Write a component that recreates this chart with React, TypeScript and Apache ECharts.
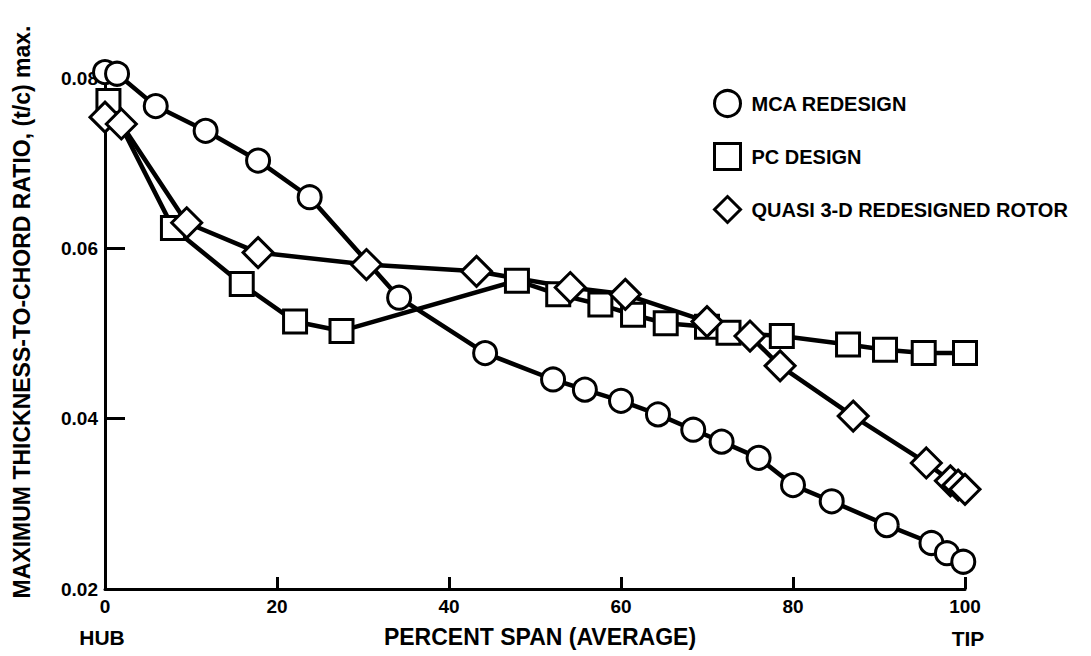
import React, { useEffect, useRef } from "react";
import * as echarts from "echarts";

// Percent span (x) and max thickness-to-chord ratio (y) for each design
const spanMCA = [0, 1.4, 5.9, 11.7, 17.8, 23.8, 34.2, 44.2, 52.1, 55.8, 60.0, 64.3, 68.4, 71.7, 76.0, 80.0, 84.5, 90.9, 96.1, 97.9, 99.8];
const tcMCA = [0.0807, 0.0805, 0.0767, 0.0738, 0.0703, 0.066, 0.0542, 0.0477, 0.0446, 0.0434, 0.0421, 0.0405, 0.0387, 0.0373, 0.0354, 0.0322, 0.0303, 0.0275, 0.0254, 0.0242, 0.0232];

const spanPC = [0.4, 7.9, 15.9, 22.1, 27.5, 47.9, 52.7, 57.6, 61.4, 65.2, 70.0, 72.5, 78.7, 86.4, 90.7, 95.2, 100];
const tcPC = [0.0773, 0.0624, 0.0558, 0.0514, 0.0503, 0.0562, 0.0546, 0.0534, 0.0522, 0.0512, 0.0508, 0.0501, 0.0497, 0.0487, 0.0481, 0.0477, 0.0477];

const spanQ3D = [0, 1.9, 9.5, 17.8, 30.4, 43.2, 54.1, 60.5, 70.0, 75.0, 78.5, 87.0, 95.5, 98.3, 99.2, 100];
const tcQ3D = [0.0754, 0.0746, 0.063, 0.0595, 0.0581, 0.0573, 0.0554, 0.0546, 0.0514, 0.0497, 0.0462, 0.0403, 0.0348, 0.0327, 0.0322, 0.0317];

const seriesNames = ["MCA REDESIGN", "PC DESIGN", "QUASI 3-D REDESIGNED ROTOR"];
const xTickValues = [0, 20, 40, 60, 80, 100];
const yTickValues = [0.02, 0.04, 0.06, 0.08];

const FONT = '"Liberation Sans", Arial, Helvetica, sans-serif';

function pairs(xs: number[], ys: number[]) {
  return xs.map((x, i) => [x, ys[i]]);
}

export default function App() {
  const ref = useRef<HTMLDivElement>(null);

  useEffect(() => {
    if (!ref.current) return;
    const chart = echarts.init(ref.current, null, { renderer: "svg" });

    const markerStyle = { color: "#ffffff", borderColor: "#000000", borderWidth: 3 };
    const lineStyle = { color: "#000000", width: 4.5 };

    const mkSeries = (name: string, data: number[][], symbol: string, size: number) => ({
      name,
      type: "line",
      data,
      symbol,
      symbolSize: size,
      showAllSymbol: true,
      clip: false,
      lineStyle,
      itemStyle: markerStyle,
      emphasis: { disabled: true },
    });

    chart.setOption({
      animation: false,
      backgroundColor: "#ffffff",
      textStyle: { fontFamily: FONT, fontWeight: "bold", color: "#000" },
      grid: { left: 105, right: 126, top: 78, bottom: 67, containLabel: false },
      xAxis: {
        type: "value",
        min: xTickValues[0],
        max: xTickValues[xTickValues.length - 1],
        interval: 20,
        axisLine: { show: true, lineStyle: { color: "#000", width: 3 } },
        axisTick: { show: true, inside: true, length: 12, lineStyle: { color: "#000", width: 3 } },
        axisLabel: { fontSize: 19, fontWeight: "bold", fontFamily: FONT, color: "#000", margin: 8 },
        splitLine: { show: false },
      },
      yAxis: {
        type: "value",
        min: yTickValues[0],
        max: yTickValues[yTickValues.length - 1],
        interval: 0.02,
        axisLine: { show: true, lineStyle: { color: "#000", width: 3 } },
        axisTick: { show: true, inside: true, length: 20, lineStyle: { color: "#000", width: 3 } },
        axisLabel: {
          fontSize: 19,
          fontWeight: "bold",
          fontFamily: FONT,
          color: "#000",
          margin: 7,
          formatter: (v: number) => v.toFixed(2),
        },
        splitLine: { show: false },
      },
      legend: {
        orient: "vertical",
        left: 708,
        top: 84,
        itemWidth: 26,
        itemHeight: 26,
        itemGap: 24,
        selectedMode: false,
        itemStyle: { color: "#ffffff", borderColor: "#000000", borderWidth: 3 },
        textStyle: { fontSize: 20, fontWeight: "bold", fontFamily: FONT, color: "#000", padding: [0, 0, 0, 6] },
        data: [
          { name: seriesNames[0], icon: "circle" },
          { name: seriesNames[1], icon: "rect" },
          { name: seriesNames[2], icon: "diamond" },
        ],
      },
      series: [
        mkSeries(seriesNames[0], pairs(spanMCA, tcMCA), "circle", 23),
        mkSeries(seriesNames[1], pairs(spanPC, tcPC), "rect", 23),
        mkSeries(seriesNames[2], pairs(spanQ3D, tcQ3D), "diamond", 30),
      ],
      graphic: [
        {
          type: "text",
          x: 22,
          y: 312,
          rotation: Math.PI / 2,
          style: {
            text: "MAXIMUM THICKNESS-TO-CHORD RATIO, (t/c) max.",
            fontSize: 23,
            fontWeight: "bold",
            fontFamily: FONT,
            fill: "#000",
            align: "center",
            verticalAlign: "middle",
          },
        },
        {
          type: "text",
          x: 102,
          y: 637,
          style: { text: "HUB", fontSize: 21, fontWeight: "bold", fontFamily: FONT, fill: "#000", align: "center", verticalAlign: "middle" },
        },
        {
          type: "text",
          x: 968,
          y: 638,
          style: { text: "TIP", fontSize: 21, fontWeight: "bold", fontFamily: FONT, fill: "#000", align: "center", verticalAlign: "middle" },
        },
        {
          type: "text",
          x: 540,
          y: 637,
          style: {
            text: "PERCENT SPAN (AVERAGE)",
            fontSize: 23,
            fontWeight: "bold",
            fontFamily: FONT,
            fill: "#000",
            align: "center",
            verticalAlign: "middle",
          },
        },
      ],
    });

    return () => chart.dispose();
  }, []);

  return (
    <div
      ref={ref}
      style={{ position: "fixed", left: 0, top: 0, width: 1091, height: 656, background: "#fff" }}
    />
  );
}
